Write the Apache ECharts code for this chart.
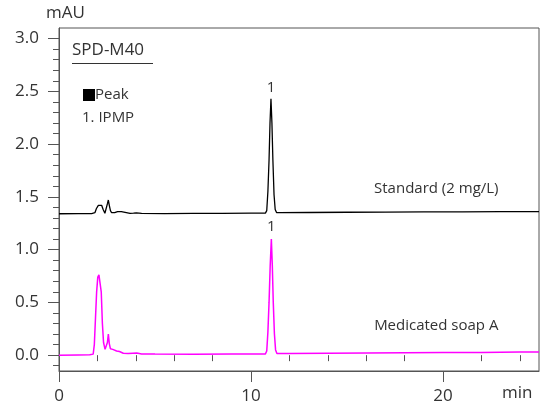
<!DOCTYPE html>
<html>
<head>
<meta charset="utf-8">
<script src="https://cdn.jsdelivr.net/npm/echarts@6/dist/echarts.min.js"></script>
<style>html,body{margin:0;padding:0;background:#fff}#c{width:541px;height:405px}</style>
</head>
<body>
<div id="c"></div>
<script>
// ---- data ----
var stdTime = [0, 1.0, 1.7, 1.87, 1.95, 2.05, 2.13, 2.22, 2.3, 2.39, 2.47, 2.53, 2.57, 2.62, 2.68, 2.74, 2.9, 3.05, 3.14, 3.25, 3.35, 3.7, 3.88, 3.95, 4.03, 4.3, 5.5, 7, 8.5, 10, 10.75, 10.82, 10.88, 10.94, 10.99, 11.04, 11.09, 11.14, 11.2, 11.26, 11.33, 11.5, 13, 15, 17, 19, 21, 23, 25];
var stdAbs  = [1.340, 1.341, 1.342, 1.35, 1.39, 1.42, 1.43, 1.42, 1.38, 1.345, 1.36, 1.44, 1.47, 1.42, 1.37, 1.35, 1.35, 1.36, 1.37, 1.36, 1.345, 1.343, 1.345, 1.36, 1.348, 1.343, 1.342, 1.344, 1.343, 1.345, 1.346, 1.37, 1.55, 1.85, 2.2, 2.43, 2.2, 1.85, 1.52, 1.38, 1.352, 1.35, 1.352, 1.354, 1.355, 1.357, 1.358, 1.36, 1.36];
var soapTime = [0, 1.0, 1.6, 1.78, 1.84, 1.9, 1.96, 2.02, 2.08, 2.15, 2.2, 2.26, 2.32, 2.4, 2.47, 2.52, 2.57, 2.62, 2.68, 2.8, 3.0, 3.15, 3.35, 3.6, 3.85, 3.95, 4.05, 4.3, 5, 7, 9, 10.75, 10.82, 10.88, 10.94, 11.0, 11.06, 11.11, 11.16, 11.22, 11.28, 11.35, 12, 14, 16, 18, 20, 22, 24, 25];
var soapAbs  = [0.0, 0.002, 0.003, 0.01, 0.1, 0.35, 0.6, 0.74, 0.76, 0.75, 0.6, 0.3, 0.12, 0.055, 0.05, 0.12, 0.2, 0.11, 0.06, 0.055, 0.04, 0.035, 0.018, 0.015, 0.018, 0.035, 0.02, 0.012, 0.01, 0.008, 0.01, 0.012, 0.04, 0.22, 0.5, 0.85, 1.10, 0.85, 0.5, 0.2, 0.05, 0.015, 0.015, 0.018, 0.02, 0.022, 0.025, 0.026, 0.03, 0.03];
var peakLabel = ['1'];
var stdPeak = [11.04, 2.43];
var soapPeak = [11.06, 1.10];
var seriesNames = ['Standard (2 mg/L)', 'Medicated soap A'];
var seriesNamePos = [[19.65, 1.58], [19.65, 0.275]];
var yMajor = [0, 0.5, 1.0, 1.5, 2.0, 2.5, 3.0];
var yMinor = [-0.1, 0.1, 0.2, 0.3, 0.4, 0.6, 0.7, 0.8, 0.9, 1.1, 1.2, 1.3, 1.4, 1.6, 1.7, 1.8, 1.9, 2.1, 2.2, 2.3, 2.4, 2.6, 2.7, 2.8, 2.9];
var xMajor = [0, 10, 20];
var xMinor = [2, 4, 6, 8, 12, 14, 16, 18, 22, 24];

function zip(a, b) { return a.map(function (v, i) { return [v, b[i]]; }); }

var FONT = 'Open Sans';
var TXT = '#333';
var AX = '#555';

var chart = echarts.init(document.getElementById('c'), null, { renderer: 'canvas' });
function nameMark(pos, text) {
  return {
    symbol: 'circle', symbolSize: 0, silent: true, animation: false,
    data: [{ coord: pos, value: text }],
    label: { show: true, position: 'inside', formatter: text, color: TXT, fontFamily: FONT, fontSize: 15 }
  };
}
chart.setOption({
  animation: false,
  backgroundColor: '#fff',
  grid: { left: 59, right: 2, top: 28, bottom: 34, show: true, borderColor: AX, borderWidth: 1, backgroundColor: 'transparent' },
  xAxis: [
    { type: 'value', min: 0, max: 25, position: 'bottom',
      axisLine: { show: true, onZero: false, lineStyle: { color: AX, width: 1 } },
      axisTick: { show: true, customValues: xMajor, length: 11, lineStyle: { color: AX } },
      axisLabel: { customValues: xMajor, color: TXT, fontFamily: FONT, fontSize: 17, margin: 17 },
      splitLine: { show: false } },
    { type: 'value', min: 0, max: 25, position: 'bottom',
      axisLine: { show: false },
      axisTick: { show: true, customValues: xMinor, length: 6, lineStyle: { color: AX } },
      axisLabel: { show: false }, splitLine: { show: false } }
  ],
  yAxis: [
    { type: 'value', min: -0.15, max: 3.1, position: 'left',
      axisLine: { show: true, onZero: false, lineStyle: { color: AX, width: 1 } },
      axisTick: { show: true, customValues: yMajor, length: 11, lineStyle: { color: AX } },
      axisLabel: { customValues: yMajor, color: TXT, fontFamily: FONT, fontSize: 17, margin: 20,
        formatter: function (v) { return v.toFixed(1); } },
      splitLine: { show: false } },
    { type: 'value', min: -0.15, max: 3.1, position: 'left',
      axisLine: { show: false },
      axisTick: { show: true, customValues: yMinor, length: 6, lineStyle: { color: AX } },
      axisLabel: { show: false }, splitLine: { show: false } }
  ],
  series: [
    { name: seriesNames[0], type: 'line', data: zip(stdTime, stdAbs), showSymbol: false, symbol: 'none',
      lineStyle: { color: '#000', width: 1.3 }, z: 3,
      markPoint: {
        symbol: 'circle', symbolSize: 0, silent: true,
        data: [{ coord: stdPeak, value: peakLabel[0] }],
        label: { show: true, position: 'top', distance: 3, formatter: peakLabel[0], color: TXT, fontFamily: FONT, fontSize: 15 }
      } },
    { name: seriesNames[1], type: 'line', data: zip(soapTime, soapAbs), showSymbol: false, symbol: 'none',
      lineStyle: { color: '#ff00ff', width: 1.5 }, z: 2,
      markPoint: {
        symbol: 'circle', symbolSize: 0, silent: true,
        data: [{ coord: soapPeak, value: peakLabel[0] }],
        label: { show: true, position: 'top', distance: 5, formatter: peakLabel[0], color: TXT, fontFamily: FONT, fontSize: 15 }
      } },
    { type: 'scatter', data: [], markPoint: nameMark(seriesNamePos[0], seriesNames[0]) },
    { type: 'scatter', data: [], markPoint: nameMark(seriesNamePos[1], seriesNames[1]) }
  ],
  graphic: [
    { type: 'text', left: 46, top: 5, style: { text: 'mAU', fill: TXT, font: '17px "Open Sans"' } },
    { type: 'text', left: 72, top: 42, style: { text: 'SPD-M40', fill: TXT, font: '17px "Open Sans"' } },
    { type: 'line', shape: { x1: 72, y1: 63.5, x2: 153, y2: 63.5 }, style: { stroke: TXT, lineWidth: 1 } },
    { type: 'rect', shape: { x: 83, y: 89, width: 12, height: 12 }, style: { fill: '#000' } },
    { type: 'text', left: 95, top: 87, style: { text: 'Peak', fill: TXT, font: '15px "Open Sans"' } },
    { type: 'text', left: 82, top: 110, style: { text: '1. IPMP', fill: TXT, font: '15px "Open Sans"' } },
    { type: 'text', left: 502, top: 385, style: { text: 'min', fill: TXT, font: '17px "Open Sans"' } }
  ]
});
</script>
</body>
</html>
